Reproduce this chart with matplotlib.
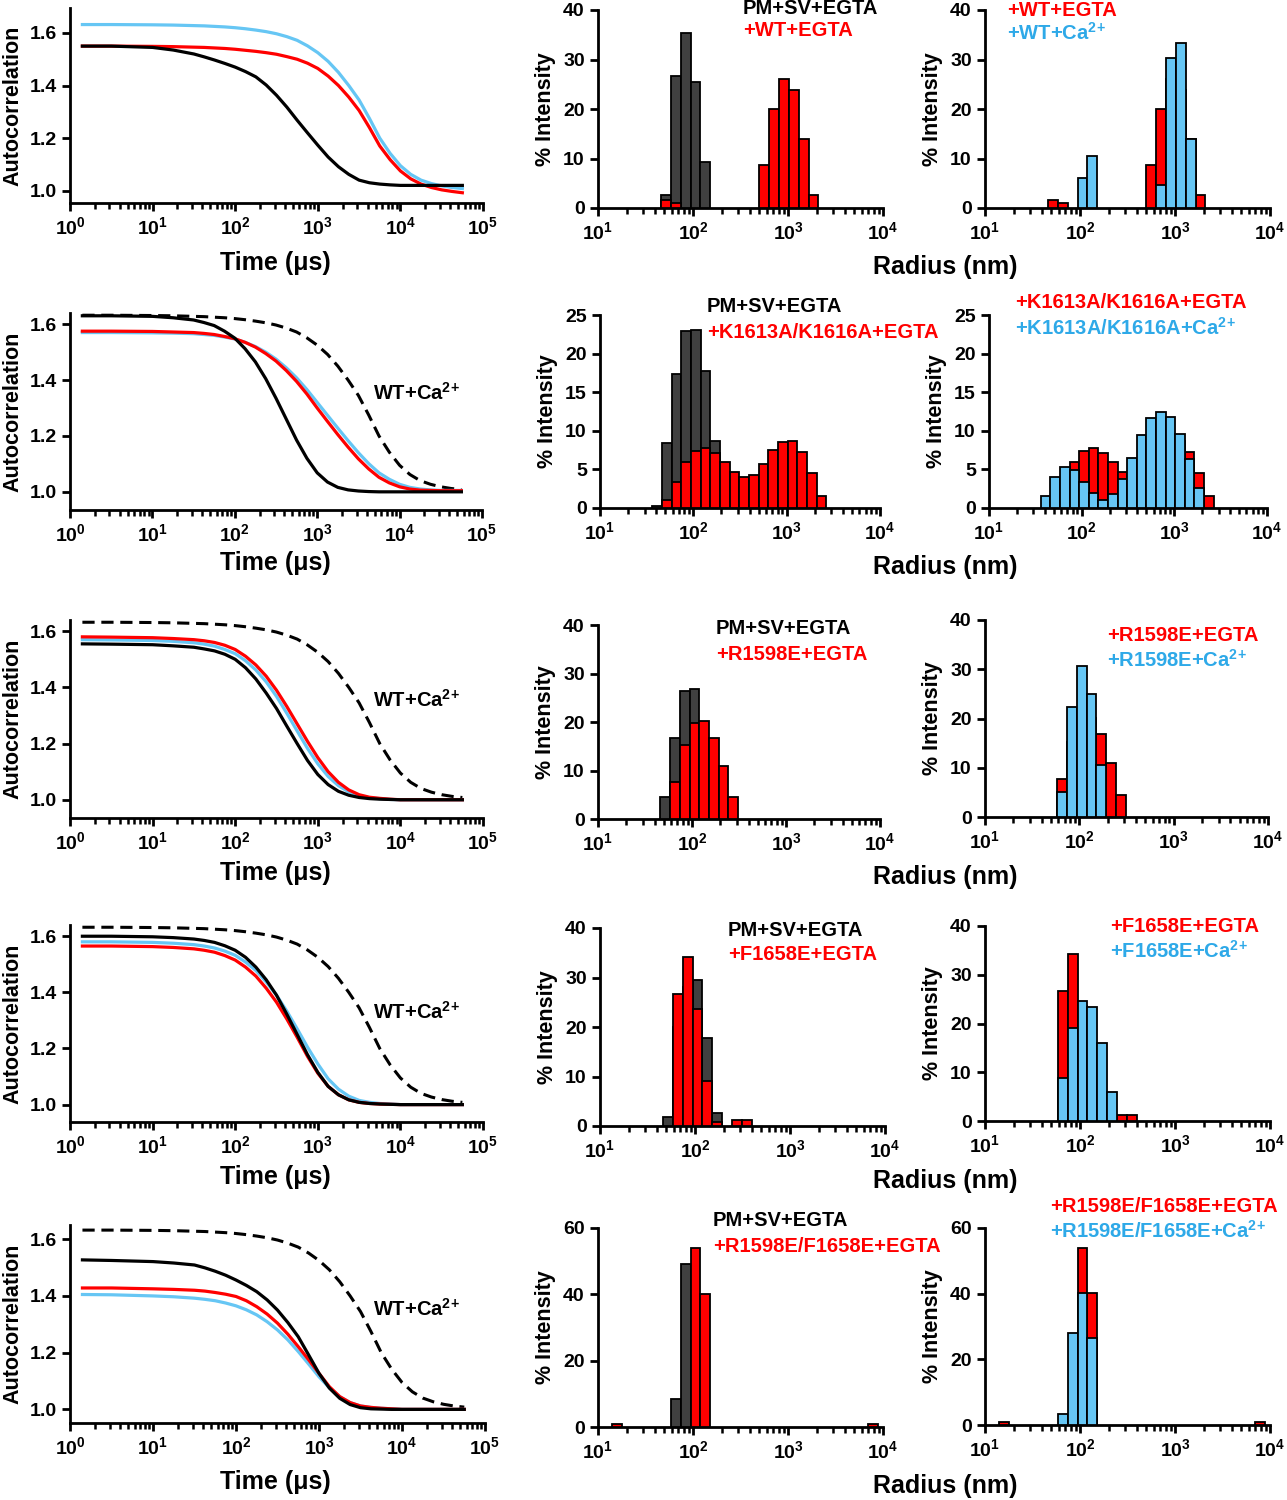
import numpy as np
import matplotlib
matplotlib.use('Agg')
import matplotlib.pyplot as plt
from matplotlib.ticker import LogLocator, NullFormatter, FuncFormatter, FixedLocator

plt.rcParams['font.family'] = ['Liberation Sans', 'DejaVu Sans']
plt.rcParams['font.weight'] = 'bold'
plt.rcParams['mathtext.fontset'] = 'custom'
plt.rcParams['mathtext.bf'] = 'Liberation Sans:bold'
plt.rcParams['mathtext.rm'] = 'Liberation Sans:bold'
plt.rcParams['mathtext.default'] = 'bf'

# ---------------- autocorrelation curves (time in us, log10 grid) ----------------
log_t = [0.15, 0.5, 1.0, 1.25, 1.5, 1.625, 1.75, 1.875, 2.0, 2.125, 2.25, 2.375, 2.5, 2.625, 2.75,
         2.875, 3.0, 3.125, 3.25, 3.375, 3.5, 3.625, 3.75, 3.875, 4.0, 4.125, 4.25, 4.375, 4.5, 4.625, 4.75]
time_us = [10 ** v for v in log_t]

# row 1 : WT
g1_pm = [1.550, 1.550, 1.545, 1.535, 1.520, 1.509, 1.497, 1.484, 1.470, 1.453, 1.433, 1.402, 1.363, 1.318, 1.268,
         1.220, 1.173, 1.128, 1.091, 1.062, 1.040, 1.030, 1.025, 1.022, 1.020, 1.020, 1.020, 1.020, 1.020, 1.020, 1.020]
g1_egta = [1.550, 1.550, 1.549, 1.548, 1.546, 1.545, 1.543, 1.541, 1.538, 1.534, 1.530, 1.525, 1.519, 1.510, 1.500,
           1.485, 1.465, 1.436, 1.400, 1.356, 1.305, 1.240, 1.170, 1.118, 1.075, 1.045, 1.025, 1.012, 1.003, 0.997, 0.992]
wt_ca = [1.632, 1.632, 1.631, 1.630, 1.628, 1.627, 1.625, 1.623, 1.620, 1.616, 1.611, 1.605, 1.597, 1.586, 1.572,
         1.551, 1.525, 1.492, 1.450, 1.400, 1.345, 1.275, 1.200, 1.142, 1.095, 1.062, 1.040, 1.027, 1.018, 1.012, 1.008]
# row 2 : K1613A/K1616A
g2_pm = [1.630, 1.630, 1.628, 1.623, 1.615, 1.606, 1.595, 1.575, 1.550, 1.512, 1.465, 1.405, 1.335, 1.260, 1.185,
         1.120, 1.068, 1.035, 1.016, 1.007, 1.003, 1.001] + [1.000] * 9
g2_egta = [1.575, 1.575, 1.574, 1.572, 1.570, 1.567, 1.563, 1.556, 1.548, 1.535, 1.518, 1.495, 1.468, 1.434, 1.395,
           1.350, 1.300, 1.252, 1.205, 1.160, 1.118, 1.082, 1.052, 1.032, 1.018, 1.010, 1.006, 1.005, 1.004, 1.004, 1.004]
g2_ca = [1.570, 1.570, 1.569, 1.568, 1.566, 1.563, 1.560, 1.554, 1.547, 1.535, 1.520, 1.500, 1.475, 1.444, 1.408,
         1.366, 1.320, 1.274, 1.228, 1.183, 1.140, 1.101, 1.068, 1.045, 1.027, 1.016, 1.010, 1.007, 1.005, 1.005, 1.005]
# row 3 : R1598E
g3_pm = [1.555, 1.554, 1.552, 1.548, 1.543, 1.537, 1.530, 1.518, 1.500, 1.470, 1.430, 1.380, 1.325, 1.262, 1.200,
         1.140, 1.090, 1.054, 1.030, 1.016, 1.008, 1.004, 1.002, 1.001] + [1.000] * 7
g3_egta = [1.580, 1.579, 1.577, 1.574, 1.570, 1.566, 1.560, 1.550, 1.535, 1.511, 1.480, 1.440, 1.390, 1.332, 1.270,
           1.208, 1.150, 1.100, 1.062, 1.035, 1.018, 1.009, 1.005, 1.002] + [1.000] * 7
g3_ca = [1.570, 1.569, 1.567, 1.564, 1.559, 1.554, 1.547, 1.535, 1.520, 1.495, 1.462, 1.420, 1.368, 1.308, 1.245,
         1.183, 1.128, 1.083, 1.050, 1.028, 1.014, 1.007, 1.004, 1.001] + [1.000] * 7
# row 4 : F1658E
g4_pm = [1.600, 1.600, 1.598, 1.595, 1.590, 1.585, 1.578, 1.566, 1.550, 1.525, 1.490, 1.445, 1.390, 1.322, 1.250,
         1.178, 1.115, 1.065, 1.035, 1.017, 1.008, 1.004, 1.002, 1.001] + [1.000] * 7
g4_egta = [1.565, 1.565, 1.563, 1.560, 1.555, 1.550, 1.543, 1.531, 1.515, 1.490, 1.458, 1.415, 1.365, 1.305, 1.240,
           1.172, 1.112, 1.065, 1.035, 1.017, 1.008, 1.004, 1.002, 1.001] + [1.000] * 7
g4_ca = [1.580, 1.580, 1.578, 1.575, 1.570, 1.565, 1.558, 1.547, 1.532, 1.508, 1.478, 1.437, 1.390, 1.333, 1.270,
         1.205, 1.145, 1.092, 1.055, 1.030, 1.015, 1.008, 1.004, 1.002] + [1.000] * 7
# row 5 : R1598E/F1658E
g5_pm = [1.527, 1.525, 1.521, 1.516, 1.509, 1.499, 1.487, 1.473, 1.456, 1.437, 1.415, 1.386, 1.350, 1.306, 1.256,
         1.192, 1.127, 1.075, 1.039, 1.017, 1.006, 1.002, 1.001, 1.000] + [1.000] * 7
g5_egta = [1.428, 1.428, 1.425, 1.423, 1.420, 1.417, 1.412, 1.406, 1.398, 1.383, 1.362, 1.336, 1.304, 1.265, 1.221,
           1.175, 1.127, 1.080, 1.045, 1.024, 1.012, 1.007, 1.004, 1.002] + [1.000] * 7
g5_ca = [1.405, 1.404, 1.400, 1.397, 1.392, 1.388, 1.383, 1.375, 1.365, 1.351, 1.333, 1.309, 1.280, 1.245, 1.204,
         1.160, 1.115, 1.076, 1.045, 1.024, 1.012, 1.007, 1.004, 1.002] + [1.000] * 7

# ---------------- size distributions (% intensity) ----------------
# log-spaced radius bins (nm); each series = (first bin index, heights)
radius_edges = np.logspace(1.0414, 1.0414 + 0.1036 * 30, 31)

h1_pm = (6, [2.7, 26.7, 35.3, 25.5, 9.2])
h1_egta = (6, [1.6, 1.1, 0, 0, 0, 0, 0, 0, 0, 0, 8.6, 20.0, 26.1, 23.9, 13.9, 2.7])
h1_ca = (9, [6.0, 10.5, 0, 0, 0, 0, 0, 0, 4.7, 30.4, 33.3, 14.0])

h2_pm = (5, [0.3, 8.4, 17.4, 22.9, 23.1, 17.7, 8.7])
h2_egta = (6, [1.1, 3.4, 5.9, 7.4, 7.8, 7.1, 5.9, 4.6, 4.0, 4.3, 5.7, 7.5, 8.6, 8.7, 7.2, 4.5, 1.5])
h2_ca = (5, [1.5, 4.0, 5.3, 4.9, 3.4, 1.9, 1.1, 1.8, 3.7, 6.5, 9.5, 11.6, 12.5, 11.8, 9.6, 6.3, 2.6])

h3_pm = (6, [4.5, 16.8, 26.4, 26.9, 14.0])
h3_egta = (7, [7.7, 15.3, 19.7, 20.2, 16.8, 11.0, 4.5])
h3_ca = (7, [5.0, 22.4, 30.7, 24.9, 10.6])

h4_pm = (6, [1.8, 20.0, 28.0, 29.5, 17.7, 2.7])
h4_egta = (7, [26.6, 34.2, 23.6, 9.1, 0.8, 0, 1.3, 1.3])
h4_ca = (7, [8.9, 19.0, 24.6, 23.4, 16.1, 6.0])

h5_pm = (7, [8.4, 49.2, 35.0])
h5_egta = (1, [0.8] + [0] * 7 + [54.0, 40.2] + [0] * 16 + [0.8])
h5_ca = (7, [3.3, 28.0, 40.2, 26.4])

mutants = ['WT', 'K1613A/K1616A', 'R1598E', 'F1658E', 'R1598E/F1658E']
CA = r'Ca$^{2\!+}$'

RED = '#FF0000'
BLUE = '#66C6F4'
BLUE_TXT = '#2EA9E8'
GREY = '#404040'

W, H = 1287, 1500
fig = plt.figure(figsize=(W / 100, H / 100), dpi=100)


def px_axes(x0, y0, x1, y1):
    return fig.add_axes([x0 / W, 1 - y1 / H, (x1 - x0) / W, (y1 - y0) / H])


def pow_fmt(v, pos):
    return r'$10^{%d}$' % int(round(np.log10(v)))


def style(ax):
    for s in ['top', 'right']:
        ax.spines[s].set_visible(False)
    for s in ['left', 'bottom']:
        ax.spines[s].set_linewidth(2.0)
    ax.tick_params(which='major', direction='out', length=6, width=2.0, labelsize=14)
    ax.tick_params(which='minor', direction='out', length=4, width=1.8)
    ax.set_xscale('log')
    ax.xaxis.set_major_locator(LogLocator(base=10, numticks=12))
    ax.xaxis.set_minor_locator(LogLocator(base=10, subs=np.arange(2, 10), numticks=12))
    ax.xaxis.set_major_formatter(FuncFormatter(pow_fmt))
    ax.xaxis.set_minor_formatter(NullFormatter())


def draw_bars(ax, series, color):
    start, heights = series
    for i, h in enumerate(heights):
        if h <= 0:
            continue
        k = start + i
        ax.bar(radius_edges[k], h, width=radius_edges[k + 1] - radius_edges[k], align='edge',
               color=color, edgecolor='black', linewidth=1.3, zorder=3)


left_pos = [(70, 8, 483, 203), (70, 313, 482, 510), (70, 620, 483, 818), (70, 925, 483, 1122), (70, 1225, 485, 1423)]
mid_pos = [(598, 10, 883, 208), (600, 315, 880, 508), (598, 625, 880, 819), (600, 928, 885, 1126), (598, 1228, 883, 1427)]
right_pos = [(985, 10, 1270, 208), (989, 315, 1267, 508), (985, 620, 1268, 817), (985, 926, 1270, 1121), (985, 1228, 1270, 1425)]
left_ylim = [(0.953, 1.695), (0.935, 1.64), (0.935, 1.64), (0.938, 1.64), (0.952, 1.65)]
hist_top = [40, 25, 40, 40, 60]
hist_step = [10, 5, 10, 10, 20]
curves = [(g1_pm, g1_egta, wt_ca), (g2_pm, g2_egta, g2_ca), (g3_pm, g3_egta, g3_ca),
          (g4_pm, g4_egta, g4_ca), (g5_pm, g5_egta, g5_ca)]
hists = [(h1_pm, h1_egta, h1_ca), (h2_pm, h2_egta, h2_ca), (h3_pm, h3_egta, h3_ca),
         (h4_pm, h4_egta, h4_ca), (h5_pm, h5_egta, h5_ca)]
time_y = [263, 563, 873, 1177, 1482]
mid_leg = [(743, 8, 31), (707, 307, 332), (716, 629, 655), (728, 930, 954), (713, 1221, 1247)]
right_leg = [(1007, 10, 33), (1015, 303, 328), (1107, 636, 660), (1110, 927, 951), (1050, 1207, 1231)]
wt_lab_y = [None, 393, 700, 1012, 1309]

for r in range(5):
    pm, egta, ca = curves[r]
    ax = px_axes(*left_pos[r])
    style(ax)
    if r > 0:
        ax.plot(time_us, wt_ca, color='black', lw=2.2, dashes=(4, 2.2))
    ax.plot(time_us, ca, color=BLUE, lw=2.3)
    ax.plot(time_us, egta, color=RED, lw=2.3)
    ax.plot(time_us, pm, color='black', lw=2.3)
    ax.set_xlim(1, 1e5)
    ax.set_ylim(*left_ylim[r])
    ax.yaxis.set_major_locator(FixedLocator([1.0, 1.2, 1.4, 1.6]))
    ax.yaxis.set_major_formatter(FuncFormatter(lambda v, p: '%.1f' % v))
    ax.set_ylabel('Autocorrelation', fontsize=15.5, fontweight='bold')
    ax.yaxis.set_label_coords(-47 / (left_pos[r][2] - left_pos[r][0]), 0.5)
    fig.text(275 / W, 1 - time_y[r] / H, 'Time (μs)', fontsize=18, fontweight='bold',
             ha='center', va='center')
    if wt_lab_y[r] is not None:
        fig.text(373 / W, 1 - wt_lab_y[r] / H, 'WT+' + CA, fontsize=14.5, fontweight='bold',
                 ha='left', va='center')

    hpm, hegta, hca = hists[r]
    # middle: control vs mutant in EGTA
    axm = px_axes(*mid_pos[r])
    style(axm)
    draw_bars(axm, hpm, GREY)
    draw_bars(axm, hegta, RED)
    # right: mutant EGTA vs Ca2+
    axr = px_axes(*right_pos[r])
    style(axr)
    draw_bars(axr, hegta, RED)
    draw_bars(axr, hca, BLUE)
    for a, pos in [(axm, mid_pos[r]), (axr, right_pos[r])]:
        a.set_xlim(10, 1e4)
        a.set_ylim(0, hist_top[r])
        a.set_yticks(np.arange(0, hist_top[r] + 1, hist_step[r]))
        a.set_ylabel('% Intensity', fontsize=15.5, fontweight='bold')
        a.yaxis.set_label_coords(-42 / (pos[2] - pos[0]), 0.5)
    fig.text(945 / W, 1 - (time_y[r] + 4) / H, 'Radius (nm)', fontsize=18, fontweight='bold',
             ha='center', va='center')

    name = mutants[r]
    x, y1, y2 = mid_leg[r]
    fig.text(x / W, 1 - y1 / H, 'PM+SV+EGTA', fontsize=14.5, fontweight='bold', color='black', va='center')
    fig.text(x / W, 1 - y2 / H, '+%s+EGTA' % name, fontsize=14.5, fontweight='bold', color=RED, va='center')
    x, y1, y2 = right_leg[r]
    fig.text(x / W, 1 - y1 / H, '+%s+EGTA' % name, fontsize=14.5, fontweight='bold', color=RED, va='center')
    fig.text(x / W, 1 - y2 / H, '+%s+' % name + CA, fontsize=14.5, fontweight='bold', color=BLUE_TXT, va='center')

fig.savefig('out.png', dpi=100)
